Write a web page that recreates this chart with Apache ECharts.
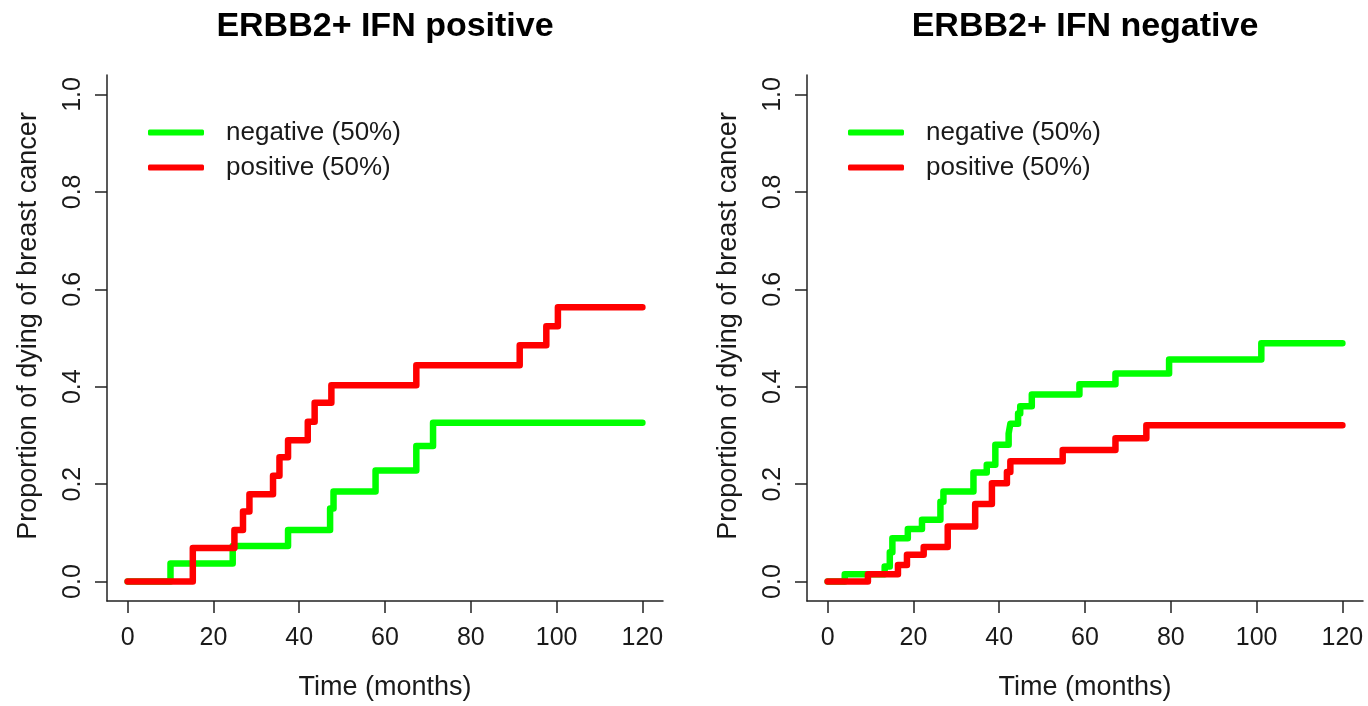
<!DOCTYPE html>
<html>
<head>
<meta charset="utf-8">
<script src="https://cdn.jsdelivr.net/npm/echarts@6/dist/echarts.min.js"></script>
<style>
  html, body { margin: 0; padding: 0; background: #fff; }
  #chart { width: 1368px; height: 706px; }
</style>
</head>
<body>
<div id="chart"></div>
<script>
// ---------- data ----------
const titles = ['ERBB2+ IFN positive', 'ERBB2+ IFN negative'];
const seriesNames = ['negative (50%)', 'positive (50%)'];
const xTicks = [0, 20, 40, 60, 80, 100, 120];
const yTicks = [0, 0.2, 0.4, 0.6, 0.8, 1.0];

// Left panel (IFN positive)
const leftNegTime = [0, 10, 24.5, 37.4, 47.2, 48.0, 57.8, 67.3, 71.2, 120];
const leftNegProb = [0, 0.037, 0.073, 0.106, 0.150, 0.185, 0.228, 0.278, 0.326, 0.326];
const leftPosTime = [0, 15.2, 24.9, 26.9, 28.4, 33.9, 35.4, 37.4, 42.0, 43.6, 47.5, 67.3, 91.4, 97.6, 100.3, 120];
const leftPosProb = [0, 0.069, 0.106, 0.144, 0.179, 0.217, 0.255, 0.290, 0.328, 0.367, 0.403, 0.444, 0.485, 0.524, 0.563, 0.563];

// Right panel (IFN negative)
const rightNegTime = [0, 4.0, 13.3, 14.5, 15.1, 18.7, 22.0, 26.3, 27.0, 34.0, 37.1, 39.1, 42.2, 42.6, 44.4, 44.9, 47.6, 58.7, 67.1, 79.6, 101.1, 120];
const rightNegProb = [0, 0.015, 0.031, 0.060, 0.089, 0.108, 0.127, 0.164, 0.185, 0.224, 0.240, 0.281, 0.304, 0.324, 0.345, 0.360, 0.384, 0.405, 0.427, 0.456, 0.489, 0.489];
const rightPosTime = [0, 9.4, 16.4, 18.5, 22.4, 28.0, 34.4, 38.3, 41.8, 42.6, 54.8, 67.1, 74.3, 120];
const rightPosProb = [0, 0.015, 0.034, 0.055, 0.071, 0.113, 0.159, 0.202, 0.225, 0.247, 0.270, 0.294, 0.321, 0.321];

const colors = ['#00ff00', '#ff0000'];

// ---------- build ----------
const FONT = '"Liberation Sans", Arial, sans-serif';
const zip = (t, p) => t.map((v, i) => [v, p[i]]);
const panels = [
  { left: 107, neg: zip(leftNegTime, leftNegProb), pos: zip(leftPosTime, leftPosProb) },
  { left: 807, neg: zip(rightNegTime, rightNegProb), pos: zip(rightPosTime, rightPosProb) }
];
const GW = 556, GH = 528, GT = 75;

const option = {
  animation: false,
  backgroundColor: '#ffffff',
  title: panels.map((p, i) => ({
    text: titles[i],
    left: p.left + GW / 2,
    textAlign: 'center',
    top: 10,
    padding: 0,
    textStyle: { fontFamily: FONT, fontSize: 34, fontWeight: 'bold', color: '#000' }
  })),
  legend: panels.map((p, i) => ({
    orient: 'vertical',
    left: p.left + 41,
    top: 118,
    padding: 0,
    itemWidth: 56,
    itemHeight: 6,
    itemGap: 6,
    icon: 'roundRect',
    selectedMode: false,
    data: seriesNames.map((n, k) => ({ name: n, itemStyle: { color: colors[k] } })),
    textStyle: { fontFamily: FONT, fontSize: 26, color: '#1a1a1a', lineHeight: 29, padding: [0, 0, 0, 17] }
  })),
  grid: panels.map(p => ({ left: p.left, top: GT, width: GW, height: GH })),
  xAxis: panels.map((p, i) => ({
    type: 'value',
    gridIndex: i,
    min: -4.8,
    max: 124.8,
    name: 'Time (months)',
    nameLocation: 'middle',
    nameGap: 73,
    nameTextStyle: { fontFamily: FONT, fontSize: 27, color: '#1a1a1a' },
    axisLine: { show: true, onZero: false, lineStyle: { color: '#222', width: 1.5 } },
    axisTick: { show: true, length: 12, customValues: xTicks, lineStyle: { color: '#222', width: 1.5 } },
    axisLabel: { customValues: xTicks, margin: 25, fontFamily: FONT, fontSize: 25, color: '#1a1a1a' },
    splitLine: { show: false }
  })),
  yAxis: panels.map((p, i) => ({
    type: 'value',
    gridIndex: i,
    min: -0.04,
    max: 1.04,
    name: 'Proportion of dying of breast cancer',
    nameLocation: 'middle',
    nameGap: 65,
    nameTextStyle: { fontFamily: FONT, fontSize: 27, color: '#1a1a1a', padding: [0, 0, 0, 24] },
    axisLine: { show: true, onZero: false, lineStyle: { color: '#222', width: 1.5 } },
    axisTick: { show: true, length: 12, customValues: yTicks, lineStyle: { color: '#222', width: 1.5 } },
    axisLabel: {
      customValues: yTicks, rotate: 90, margin: 21,
      fontFamily: FONT, fontSize: 25, color: '#1a1a1a',
      formatter: v => Number(v).toFixed(1)
    },
    splitLine: { show: false }
  })),
  series: []
};

panels.forEach((p, i) => {
  [p.neg, p.pos].forEach((d, k) => {
    option.series.push({
      type: 'line',
      name: seriesNames[k],
      xAxisIndex: i,
      yAxisIndex: i,
      step: 'end',
      symbol: 'none',
      data: d,
      itemStyle: { color: colors[k] },
      lineStyle: { color: colors[k], width: 6.5, cap: 'round', join: 'round' },
      z: 2 + k
    });
  });
});

const chart = echarts.init(document.getElementById('chart'), null, { renderer: 'canvas' });
chart.setOption(option);
</script>
</body>
</html>
